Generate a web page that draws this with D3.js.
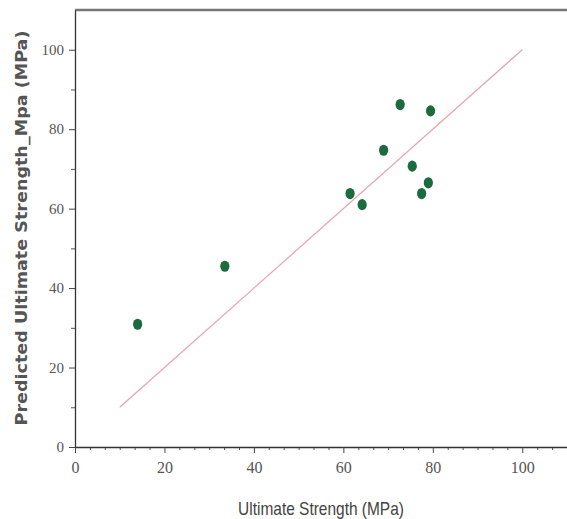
<!DOCTYPE html>
<html><head><meta charset="utf-8">
<script src="https://cdn.jsdelivr.net/npm/d3@7"></script>
<style>html,body{margin:0;padding:0;background:#fff}</style>
</head><body><svg id="c" width="567" height="519"></svg>
<script>
const actual = [14.0, 33.5, 61.5, 64.2, 69.0, 72.7, 75.4, 77.5, 79.0, 79.5];
const predicted = [30.9, 45.5, 63.8, 61.0, 74.7, 86.2, 70.7, 63.8, 66.5, 84.6];
const refLine = [10, 100];
const xTicks = [0, 20, 40, 60, 80, 100];
const yTicks = [0, 20, 40, 60, 80, 100];
const xTitle = "Ultimate Strength (MPa)";
const yTitle = "Predicted Ultimate Strength_Mpa (MPa)";

const svg = d3.select("#c");
const x = d3.scaleLinear().domain([0, 110]).range([75, 567]);
const y = d3.scaleLinear().domain([0, 110]).range([447, 10]);

// top frame
svg.append("line").attr("x1", x(0)).attr("x2", x(110)).attr("y1", y(110)).attr("y2", y(110))
  .attr("stroke", "#777").attr("stroke-width", 2.5);

// minor ticks
const xMinor = d3.range(0, 110.01, 20/6).filter(v => !xTicks.some(t => Math.abs(t - v) < 0.01));
svg.append("g").attr("transform", `translate(0,${y(0)})`)
  .call(d3.axisBottom(x).tickValues(xMinor).tickSize(3).tickFormat(""))
  .call(g => g.select(".domain").remove())
  .selectAll("line").attr("stroke", "#555");
const yMinor = d3.range(10, 110, 20);
svg.append("g").attr("transform", `translate(${x(0)},0)`)
  .call(d3.axisLeft(y).tickValues(yMinor).tickSize(4).tickFormat(""))
  .call(g => g.select(".domain").remove())
  .selectAll("line").attr("stroke", "#555");

const gx = svg.append("g").attr("transform", `translate(0,${y(0)})`)
  .call(d3.axisBottom(x).tickValues(xTicks).tickSize(6).tickSizeOuter(0).tickPadding(9));
gx.select(".domain").attr("stroke", "#333").attr("stroke-width", 1.3);
gx.selectAll("line").attr("stroke", "#444");
gx.selectAll("text").attr("font-family", "'Liberation Serif', serif")
  .attr("font-size", 16).attr("fill", "#555")
  .attr("transform", "scale(0.85,1)")
  .attr("x", function(d) { return 0; });
// keep condensed labels centred on their ticks
gx.selectAll(".tick text").attr("transform", null).attr("textLength", null);

const gy = svg.append("g").attr("transform", `translate(${x(0)},0)`)
  .call(d3.axisLeft(y).tickValues(yTicks).tickSize(6).tickSizeOuter(0).tickPadding(5));
gy.select(".domain").attr("stroke", "#333").attr("stroke-width", 1.3);
gy.selectAll("line").attr("stroke", "#444");
gy.selectAll("text").attr("font-family", "'Liberation Serif', serif")
  .attr("font-size", 15).attr("fill", "#555");

// reference line
svg.append("line")
  .attr("x1", x(refLine[0])).attr("y1", y(refLine[0]))
  .attr("x2", x(refLine[1])).attr("y2", y(refLine[1]))
  .attr("stroke", "#e8a3ad").attr("stroke-width", 1.2);

// points
svg.append("g").selectAll("ellipse").data(actual.map((a, i) => [a, predicted[i]]))
  .join("ellipse")
  .attr("cx", d => x(d[0])).attr("cy", d => y(d[1]))
  .attr("rx", 4.6).attr("ry", 5.6)
  .attr("fill", "#1c6b3f");

// titles
svg.append("text").attr("transform", `translate(${(x(0) + x(110)) / 2},515) scale(0.86,1)`)
  .attr("text-anchor", "middle")
  .attr("font-family", "'Liberation Sans', sans-serif")
  .attr("font-size", 18).attr("fill", "#444").text(xTitle);

svg.append("text").attr("transform", `translate(27,228) rotate(-90)`)
  .attr("text-anchor", "middle")
  .attr("font-family", "'DejaVu Sans', Verdana, sans-serif").attr("font-weight", "bold")
  .attr("font-size", 15).attr("fill", "#555")
  .attr("textLength", 395).attr("lengthAdjust", "spacingAndGlyphs")
  .text(yTitle);
</script></body></html>
